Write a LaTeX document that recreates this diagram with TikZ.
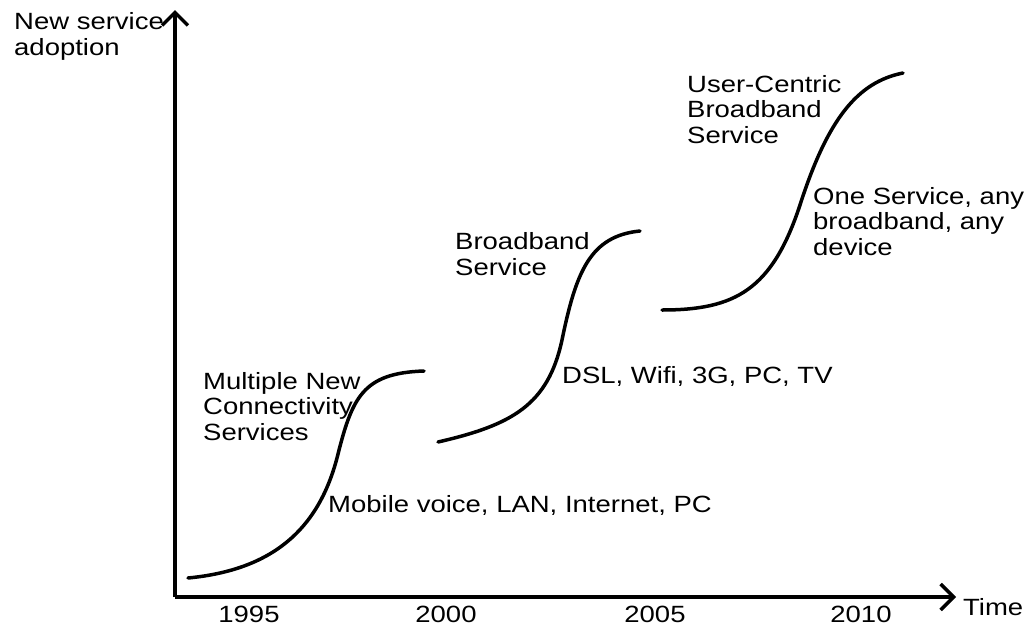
\documentclass[tikz,border=0pt]{standalone}
\usepackage{fontspec}
\setmainfont[FakeStretch=1.17]{Liberation Sans}
\usetikzlibrary{arrows.meta}

\begin{document}
\begin{tikzpicture}[x=1pt, y=-1pt,
		axis/.style = {line width=3.5pt, -{Straight Barb[length=13pt, width=26pt, line width=3.5pt]}},
		scurve/.style = {line width=3.5pt, line cap=round},
		every node/.style = {inner sep=0pt, align=left, anchor=base west, font=\fontsize{23.5}{25.5}\selectfont}]
	\useasboundingbox (0,0) rectangle (1034,627);
	% axes
	\coordinate (origin) at (175,597);
	\coordinate (ytop) at (175,10);
	\coordinate (xend) at (956,597);
	\draw[axis] (origin) -- (ytop);
	\draw[axis] (origin) -- (xend);
	% multi-line nodes sit on the baseline of their last line
	\node (ylabel) at (14,55) {New service\\adoption};
	\node (xlabel) at (963,615) {Time};
	\node[anchor=base] (y1995) at (249,622) {1995};
	\node[anchor=base] (y2000) at (446,622) {2000};
	\node[anchor=base] (y2005) at (655,622) {2005};
	\node[anchor=base] (y2010) at (861,622) {2010};
	% the three s-curves
	\draw[scurve] (188,578) .. controls (272,570) and (318,530) .. (337,458)
		.. controls (352,398) and (362,373) .. (424,371);
	\draw[scurve] (438,442) .. controls (512,425) and (548,405) .. (562,340)
		.. controls (576,272) and (590,236) .. (640,231);
	\draw[scurve] (662,310) .. controls (735,310) and (772,290) .. (800,205)
		.. controls (828,118) and (858,82) .. (903,73);
	% labels
	\node (multi) at (203,440) {Multiple New\\Connectivity\\Services};
	\node (mobile) at (328,512) {Mobile voice, LAN, Internet, PC};
	\node (bband) at (455,275) {Broadband\\Service};
	\node (dsl) at (562,383) {DSL, Wifi, 3G, PC, TV};
	\node (ucentric) at (687,143) {User-Centric\\Broadband\\Service};
	\node (onesvc) at (813,255) {One Service, any\\broadband, any\\device};
\end{tikzpicture}
\end{document}
